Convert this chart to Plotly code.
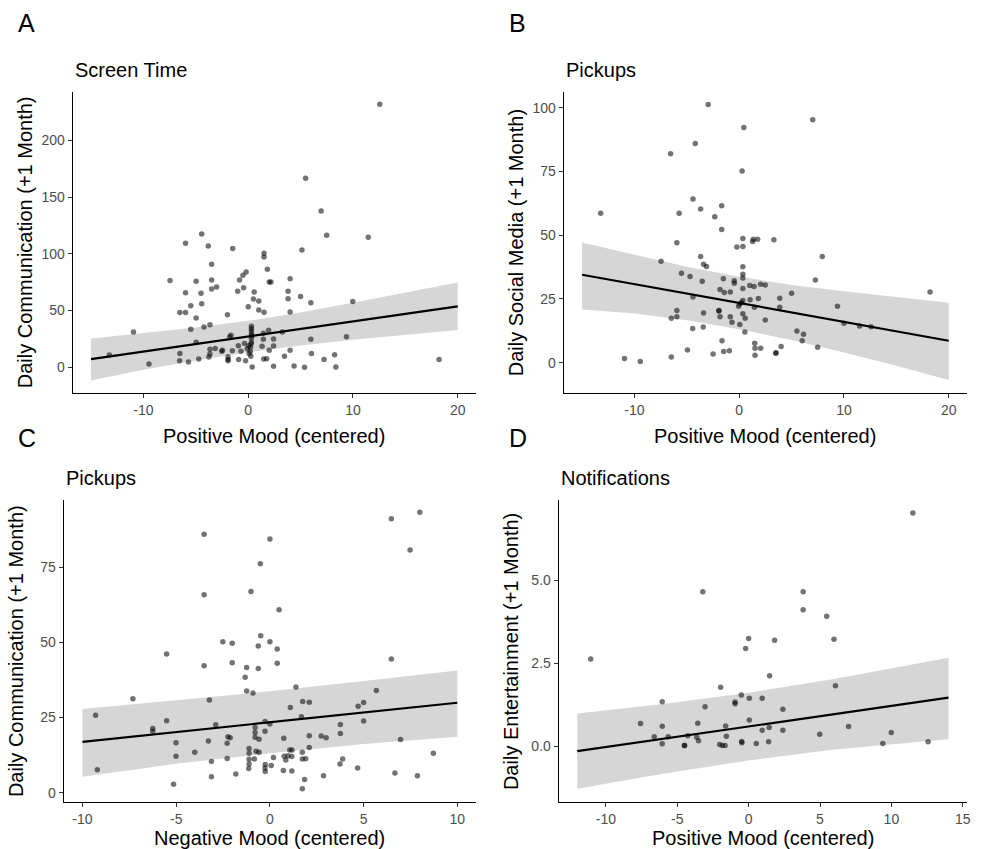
import plotly.graph_objects as go

# ---------------- Data ----------------
# Panel A: Screen Time — Positive Mood vs Daily Communication
A_x = [12.56, 5.48, 6.96, 7.49, 11.46, -4.44, -5.98, -3.81, -1.48, 1.51, 1.51, 5.13, -3.49, -0.19,
       -0.50, 1.83, -7.46, -4.97, -3.49, -0.82, 2.01, 2.17, 4.0, -3.02, -3.49, -0.44, -1.0, -5.98,
       -4.50, 0.57, 3.81, 0.50, 1.01, 3.81, 5.0, 5.98, 9.98, -4.44, -5.48, 0.0, -6.52, -5.98, 1.01,
       1.51, 4.0, -1.98, -4.97, -5.48, -4.22, -3.65, 0.31, 0.31, 0.31, 1.95, 3.27, -10.95, 0.31,
       1.45, -1.64, -1.76, 9.38, 0.31, 1.45, 2.42, 5.98, -4.97, -0.35, 0.31, -0.94, 0.06, 0.22,
       1.32, 2.42, -0.09, -3.15, -3.65, -2.46, -2.52, -1.51, -0.69, 2.01, 4.0, 0.09, -3.65, -6.52,
       6.04, 8.25, -13.25, -3.75, -1.92, 3.46, 0.25, -4.72, -1.92, -0.91, 1.48, 1.76, 7.24, 18.22,
       -1.92, -0.25, -6.55, -5.70, -9.47, 0.38, 2.42, 4.38, 5.38, 8.37, 0.28, 0.20, 0.35]
A_y = [231.7, 166.5, 137.7, 116.3, 114.5, 117.5, 109.3, 106.9, 104.6, 100.4, 97.2, 103.4, 90.7, 84.0,
       81.1, 86.3, 76.4, 75.8, 76.9, 76.9, 75.2, 75.2, 78.1, 70.8, 69.0, 70.2, 67.0, 65.8,
       65.2, 66.4, 67.0, 60.2, 58.4, 60.5, 62.3, 57.0, 58.1, 56.1, 54.3, 53.4, 48.2, 48.2, 50.5,
       48.5, 48.8, 46.4, 43.5, 33.5, 35.5, 37.6, 36.1, 34.1, 32.0, 32.6, 31.1, 31.1, 29.4,
       30.0, 28.2, 27.0, 27.0, 25.6, 24.7, 25.0, 24.7, 22.0, 21.1, 22.0, 19.1, 19.1, 17.6,
       18.5, 18.8, 16.4, 16.7, 15.9, 15.0, 14.1, 14.7, 14.1, 15.0, 15.0, 12.3, 11.7, 12.3,
       12.3, 11.2, 10.9, 9.1, 9.4, 9.7, 9.7, 7.3, 7.0, 7.0, 7.3, 7.6, 6.8, 7.0,
       5.9, 5.9, 5.9, 4.7, 2.9, 0.3, 0.9, 1.2, 0.0, 0.3, 20.5, 14.0, 27.8]
A_fit_x = [-15, -10, -5, 0, 5, 10, 15, 20]
A_fit_y = [7.3, 13.9, 20.6, 27.2, 33.8, 40.5, 47.1, 53.7]
A_hi = [25.3, 29.9, 35.1, 41.0, 48.3, 56.8, 65.6, 74.8]
A_lo = [-11.5, -2.1, 6.1, 13.4, 19.3, 24.2, 28.6, 32.8]
A_xticks = [-10, 0, 10, 20]
A_yticks = [0, 50, 100, 150, 200]

# Panel B: Pickups — Positive Mood vs Daily Social Media
B_x = [-2.96, 7.02, 0.44, -4.19, -6.55, 0.28, -4.41, -3.68, -1.67, -13.22, -5.73, -2.33, -1.67, 0.35,
       1.35, 1.76, 3.31, 1.29, -5.95, -0.22, 0.35, 7.93, -3.68, -7.46, -3.40, -3.12, 0.35, -5.51,
       -4.69, 0.35, 0.35, -1.51, -0.47, -0.47, -3.53, 7.27, 1.01, 1.42, 2.05, 2.49, 0.35, -1.83,
       -1.42, -0.85, 5.00, 18.22, -4.41, 3.87, 1.83, 1.04, 0.35, 0.22, 0.06, -0.06, 9.38, 1.45,
       3.87, -5.95, -1.92, -3.40, 0.35, -5.95, -1.83, -0.85, -6.48, 0.57, 2.49, -0.69, 0.06, 10.0,
       11.49, 12.59, -4.44, -3.43, 5.51, 0.54, 6.14, 6.01, -1.64, 1.48, 1.51, 2.05, 4.0, 7.49,
       -4.94, -1.48, -0.94, -2.49, 1.51, 3.49, 3.52, -10.95, -6.48, -9.44, -1.95]
B_y = [101.3, 95.3, 92.3, 86.0, 82.0, 75.2, 64.2, 60.3, 61.6, 58.6, 58.6, 57.2, 52.2, 48.7,
       48.4, 48.4, 48.2, 47.5, 47.0, 45.4, 45.6, 41.6, 41.6, 39.8, 38.6, 37.7, 37.6, 35.1,
       33.8, 34.7, 33.2, 32.9, 32.1, 31.2, 31.9, 32.4, 30.3, 29.9, 30.8, 30.5, 29.1, 28.7,
       27.5, 27.7, 27.2, 27.7, 25.8, 25.3, 25.2, 24.7, 24.4, 23.6, 23.0, 22.1, 22.1, 21.7,
       21.7, 20.5, 20.5, 19.5, 19.2, 18.0, 18.0, 18.0, 17.4, 17.4, 16.7, 15.9, 15.0, 15.5,
       14.4, 14.1, 13.4, 14.0, 12.4, 12.0, 11.1, 8.6, 8.6, 7.6, 5.7, 5.7, 6.3, 6.0,
       5.0, 4.4, 4.7, 3.4, 2.9, 3.7, 3.9, 1.6, 2.2, 0.5, 20.3]
B_fit_x = [-15, -10, -5, 0, 5, 10, 15, 20]
B_fit_y = [34.5, 30.8, 27.1, 23.4, 19.7, 16.0, 12.3, 8.6]
B_hi = [47.1, 42.3, 37.6, 33.7, 30.5, 28.0, 25.8, 23.5]
B_lo = [20.9, 19.3, 16.6, 13.1, 8.9, 4.0, -1.2, -6.8]
B_xticks = [-10, 0, 10, 20]
B_yticks = [0, 25, 50, 75, 100]

# Panel C: Pickups — Negative Mood vs Daily Communication
C_x = [8.0, 6.48, -3.51, 0.0, 7.48, -0.51, -3.51, -1.01, 0.49, -2.51, -2.01, -0.49, 0.0, -0.62,
       0.39, -5.51, 6.48, -3.51, -2.01, 0.39, -1.24, -0.62, -1.32, 1.39, 5.68, -1.24, -0.90,
       -7.31, -3.23, 1.75, 2.10, 5.0, 4.71, 1.09, -9.30, 1.68, -5.51, 5.0, -0.26, 0.0, -2.89,
       3.76, -0.79, -6.25, -6.25, -0.26, -0.79, 3.76, 2.10, 2.74, 3.0, -2.24, -2.12, -0.79, 0.74,
       -0.58, 6.97, -3.28, -2.28, -5.01, -1.11, 2.10, 1.06, 1.18, -4.01, -1.11, -0.74, -0.58,
       1.73, 8.72, -5.01, 0.76, 0.97, 1.17, 0.19, -2.28, -0.83, -1.11, 0.85, 1.73, 1.91, 3.88,
       -3.12, -1.11, 3.74, -0.25, 0.07, -0.26, -1.13, 4.68, -9.21, 0.72, 1.17, -0.25, 6.67,
       -1.82, 2.86, 7.87, -3.12, 1.85, -5.14, 1.73]
C_y = [93.2, 91.1, 85.9, 84.3, 80.7, 76.1, 65.8, 66.9, 60.8, 50.2, 49.7, 52.2, 50.2, 48.8,
       47.8, 46.1, 44.4, 42.2, 43.2, 43.0, 41.6, 41.3, 38.4, 35.1, 34.0, 33.8, 33.1,
       31.2, 30.8, 30.3, 30.1, 30.0, 28.7, 28.3, 25.7, 25.2, 23.9, 23.8, 23.7, 22.8, 22.6,
       22.7, 21.7, 21.3, 20.4, 20.4, 20.0, 19.7, 18.9, 18.8, 18.3, 18.6, 18.3, 18.4, 18.1,
       17.8, 17.7, 17.2, 16.4, 16.6, 14.7, 15.0, 14.2, 14.2, 13.4, 13.1, 13.8, 13.4,
       13.4, 13.1, 12.1, 12.1, 12.3, 12.0, 11.7, 11.4, 11.2, 11.1, 10.9, 11.2, 11.3, 11.2,
       10.4, 9.5, 9.5, 9.4, 9.0, 8.2, 8.0, 8.2, 7.6, 7.4, 7.2, 7.0, 6.5,
       6.2, 5.6, 5.6, 5.3, 4.4, 2.8, 1.3]
C_fit_x = [-10, -5, 0, 5, 10]
C_fit_y = [16.9, 20.15, 23.4, 26.65, 29.9]
C_hi = [27.8, 30.65, 33.7, 37.15, 40.6]
C_lo = [5.3, 9.65, 13.1, 16.15, 18.6]
C_xticks = [-10, -5, 0, 5, 10]
C_yticks = [0, 25, 50, 75]

# Panel D: Notifications — Positive Mood vs Daily Entertainment
D_x = [11.5, -3.21, 3.82, 3.82, 5.47, 0.0, 5.98, 1.82, -0.21, -11.06, 1.47, 6.08, -1.96, -0.51,
       0.05, 0.95, -6.05, -0.95, -0.95, -3.05, 2.40, 0.05, -7.57, -3.56, -6.05, -1.61, 7.0,
       1.44, 0.95, 2.40, 9.99, 4.98, -6.61, -5.63, -4.26, -3.63, -1.56, -3.51, -0.49, -0.47,
       1.40, 12.57, -6.05, -2.03, -1.84, -1.65, 0.54, 9.40, -4.49, -4.49]
D_y = [7.03, 4.66, 4.66, 4.12, 3.92, 3.25, 3.23, 3.20, 2.95, 2.63, 2.13, 1.83, 1.78, 1.55,
       1.45, 1.45, 1.35, 1.34, 1.29, 1.20, 1.12, 0.80, 0.69, 0.70, 0.61, 0.62, 0.60,
       0.57, 0.49, 0.49, 0.42, 0.37, 0.29, 0.29, 0.32, 0.28, 0.31, 0.17, 0.15, 0.11,
       0.14, 0.14, 0.08, 0.06, 0.03, 0.03, 0.09, 0.09, 0.04, 0.02]
D_fit_x = [-12, -6, 0, 6, 14]
D_fit_y = [-0.14, 0.23, 0.60, 0.97, 1.47]
D_hi = [0.99, 1.28, 1.62, 2.03, 2.67]
D_lo = [-1.27, -0.82, -0.42, -0.09, 0.22]
D_xticks = [-10, -5, 0, 5, 10, 15]
D_yticks = [0.0, 2.5, 5.0]

panels = [
    dict(letter="A", title="Screen Time", x=A_x, y=A_y, fx=A_fit_x, fy=A_fit_y, hi=A_hi, lo=A_lo,
         xtitle="Positive Mood (centered)", ytitle="Daily Communication (+1 Month)",
         xr=[-16.75, 21.75], yr=[-22.6, 242.8], xt=A_xticks, yt=A_yticks,
         yfmt="{:g}", px=(73, 478), py=(91.7, 393.0), xgap=42.5),
    dict(letter="B", title="Pickups", x=B_x, y=B_y, fx=B_fit_x, fy=B_fit_y, hi=B_hi, lo=B_lo,
         xtitle="Positive Mood (centered)", ytitle="Daily Social Media (+1 Month)",
         xr=[-16.75, 21.75], yr=[-11.9, 106.3], xt=B_xticks, yt=B_yticks,
         yfmt="{:g}", px=(566, 971), py=(91.7, 393.0), xgap=42.5),
    dict(letter="C", title="Pickups", x=C_x, y=C_y, fx=C_fit_x, fy=C_fit_y, hi=C_hi, lo=C_lo,
         xtitle="Negative Mood (centered)", ytitle="Daily Communication (+1 Month)",
         xr=[-11, 11], yr=[-3.2, 97.3], xt=C_xticks, yt=C_yticks,
         yfmt="{:g}", px=(64, 478), py=(500.0, 802.3), xgap=36),
    dict(letter="D", title="Notifications", x=D_x, y=D_y, fx=D_fit_x, fy=D_fit_y, hi=D_hi, lo=D_lo,
         xtitle="Positive Mood (centered)", ytitle="Daily Entertainment (+1 Month)",
         xr=[-13.3, 15.3], yr=[-1.68, 7.42], xt=D_xticks, yt=D_yticks,
         yfmt="{:.1f}", px=(561, 971), py=(500.0, 802.3), xgap=36),
]

W, H = 986, 849
FONT = "Liberation Sans, Arial, Helvetica, sans-serif"
fig = go.Figure()
annotations = []
layout_axes = {}

for i, p in enumerate(panels):
    n = "" if i == 0 else str(i + 1)
    xa, ya = "x" + n, "y" + n
    # ribbon
    fig.add_trace(go.Scatter(x=p["fx"] + p["fx"][::-1], y=p["hi"] + p["lo"][::-1],
                             fill="toself", fillcolor="#D6D6D6", line=dict(width=0),
                             mode="lines", hoverinfo="skip", showlegend=False, xaxis=xa, yaxis=ya))
    # points
    fig.add_trace(go.Scatter(x=p["x"], y=p["y"], mode="markers",
                             marker=dict(size=5.5, color="rgba(0,0,0,0.55)", line=dict(width=0)),
                             showlegend=False, xaxis=xa, yaxis=ya))
    # fitted line
    fig.add_trace(go.Scatter(x=p["fx"], y=p["fy"], mode="lines",
                             line=dict(color="black", width=2.2), showlegend=False, xaxis=xa, yaxis=ya))

    x0, x1 = p["px"]
    y0, y1 = p["py"]
    dx = [x0 / W, x1 / W]
    dy = [1 - y1 / H, 1 - y0 / H]
    common = dict(showgrid=False, zeroline=False, showline=True, linecolor="black", linewidth=1.2,
                  ticks="outside", ticklen=4, tickwidth=1.1, tickcolor="#333333",
                  tickfont=dict(family=FONT, size=14, color="#4D4D4D"))
    layout_axes["xaxis" + n] = dict(domain=dx, range=p["xr"], tickmode="array", tickvals=p["xt"],
                                    ticktext=["{:g}".format(v) for v in p["xt"]], anchor=ya, **common)
    layout_axes["yaxis" + n] = dict(domain=dy, range=p["yr"], tickmode="array", tickvals=p["yt"],
                                    ticktext=[p["yfmt"].format(v) for v in p["yt"]], anchor=xa, **common)

    cx = (x0 + x1) / 2
    cy = (y0 + y1) / 2
    # x axis title
    annotations.append(dict(text=p["xtitle"], x=cx / W, y=1 - (y1 + p["xgap"]) / H, xref="paper", yref="paper",
                            xanchor="center", yanchor="middle", showarrow=False,
                            font=dict(family=FONT, size=20, color="black")))
    # y axis title
    annotations.append(dict(text=p["ytitle"], x=(x0 - 48) / W, y=1 - cy / H, xref="paper", yref="paper",
                            xanchor="center", yanchor="middle", textangle=-90, showarrow=False,
                            font=dict(family=FONT, size=20, color="black")))
    # panel title
    annotations.append(dict(text=p["title"], x=x0 / W, y=1 - (y0 - 22) / H, xref="paper", yref="paper",
                            xanchor="left", yanchor="middle", showarrow=False,
                            font=dict(family=FONT, size=20, color="black")))
    # panel letter
    annotations.append(dict(text=p["letter"], x=(16 if i % 2 == 0 else 509) / W,
                            y=1 - (23 if i < 2 else 438) / H, xref="paper", yref="paper",
                            xanchor="left", yanchor="middle", showarrow=False,
                            font=dict(family=FONT, size=25, color="black")))

fig.update_layout(width=W, height=H, margin=dict(l=0, r=0, t=0, b=0),
                  paper_bgcolor="white", plot_bgcolor="white",
                  annotations=annotations, **layout_axes)
fig.write_html("out.html", config={"displayModeBar": False},
               post_script="document.body.style.margin='0px';")
